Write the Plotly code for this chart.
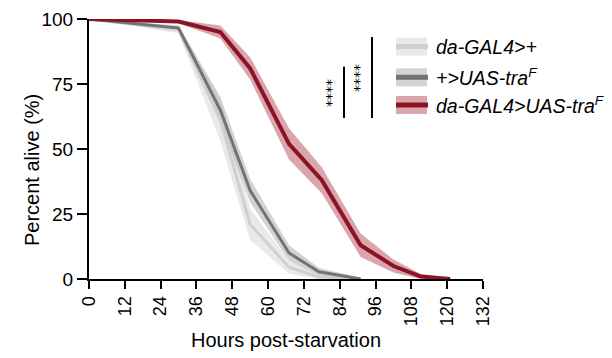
import plotly.graph_objects as go

# ---- data ----
hours_red = [0, 30, 44, 54, 67, 78, 91, 102, 111, 121]
red_mean = [100, 99, 95, 81, 52, 38, 13, 5, 1, 0]
red_sem = [0, 0.6, 2.5, 4.3, 6, 5, 4.5, 2.5, 1, 0.4]

hours_gray = [0, 30, 44, 54, 67, 77, 91]
dark_mean = [100, 96.5, 65, 34, 10, 2.8, 0]
dark_sem = [0, 1, 5, 4.5, 3, 1.5, 0.4]
light_mean = [100, 96, 61, 21, 4.5, 0.8, 0]
light_sem = [0, 1.5, 8, 6, 2.5, 0.8, 0.3]

series_names = ["da-GAL4>+", "+>UAS-tra<sup>F</sup>", "da-GAL4>UAS-tra<sup>F</sup>"]
line_colors = ["#d0d0d0", "#737373", "#8a1426"]
band_colors = ["rgba(215,215,215,0.55)", "rgba(175,175,175,0.55)", "rgba(195,105,120,0.6)"]
line_widths = [3, 3, 4]

x_ticks = list(range(0, 133, 12))
y_ticks = [0, 25, 50, 75, 100]

FONT = "Liberation Sans, Arial, Helvetica, sans-serif"

fig = go.Figure()

series = [
    (hours_gray, light_mean, light_sem),
    (hours_gray, dark_mean, dark_sem),
    (hours_red, red_mean, red_sem),
]

for i, (h, m, s) in enumerate(series):
    upper = [a + b for a, b in zip(m, s)]
    lower = [max(a - b, 0) for a, b in zip(m, s)]
    fig.add_trace(go.Scatter(
        x=h + h[::-1], y=upper + lower[::-1], fill="toself",
        fillcolor=band_colors[i], line=dict(width=0), mode="lines",
        hoverinfo="skip", showlegend=False))

for i, (h, m, s) in enumerate(series):
    fig.add_trace(go.Scatter(
        x=h, y=m, mode="lines",
        line=dict(color=line_colors[i], width=line_widths[i]),
        showlegend=False, cliponaxis=False))

# ---- custom legend ----
px0, px1 = 89, 483
py0, py1 = 279, 19
def xp(p):
    return (p - px0) / (px1 - px0)
def yp(p):
    return (py0 - p) / (py0 - py1)

rows = [46.7, 77.3, 105]
shapes = []
annotations = []
for i, ry in enumerate(rows):
    shapes.append(dict(type="rect", xref="paper", yref="paper",
                       x0=xp(396), x1=xp(427), y0=yp(ry + 9), y1=yp(ry - 9),
                       fillcolor=band_colors[i], line=dict(width=0)))
    shapes.append(dict(type="line", xref="paper", yref="paper",
                       x0=xp(396), x1=xp(428), y0=yp(ry), y1=yp(ry),
                       line=dict(color=line_colors[i], width=5)))
    annotations.append(dict(xref="paper", yref="paper", x=xp(434), y=yp(ry),
                            xanchor="left", yanchor="middle", showarrow=False,
                            text="<i>" + series_names[i] + "</i>",
                            font=dict(family=FONT, size=19.5, color="black")))

# significance bars
shapes.append(dict(type="line", xref="paper", yref="paper",
                   x0=xp(344), x1=xp(344), y0=yp(66.7), y1=yp(118),
                   line=dict(color="black", width=2)))
shapes.append(dict(type="line", xref="paper", yref="paper",
                   x0=xp(372), x1=xp(372), y0=yp(37), y1=yp(118),
                   line=dict(color="black", width=2)))
for sx, sy in [(331, 93), (359, 78)]:
    annotations.append(dict(xref="paper", yref="paper", x=xp(sx), y=yp(sy),
                            xanchor="center", yanchor="middle",
                            text="****", textangle=-90, showarrow=False,
                            font=dict(family="DejaVu Sans, sans-serif", size=14, color="#000000")))

# y-axis title as annotation for precise placement
annotations.append(dict(xref="paper", yref="paper", x=xp(32), y=yp(170),
                        xanchor="center", yanchor="middle", showarrow=False,
                        text="Percent alive (%)", textangle=-90,
                        font=dict(family=FONT, size=20, color="black")))

fig.update_layout(
    width=612, height=358,
    margin=dict(l=px0, r=612 - px1, t=py1, b=358 - py0, autoexpand=False),
    paper_bgcolor="white", plot_bgcolor="white",
    font=dict(family=FONT, size=19, color="black"),
    shapes=shapes, annotations=annotations,
    showlegend=False,
)
fig.update_xaxes(
    range=[0, 132], tickvals=x_ticks, ticktext=[str(t) for t in x_ticks],
    tickangle=-90, showline=True, linecolor="black", linewidth=2,
    ticks="outside", ticklen=8, tickwidth=2, tickcolor="black",
    showgrid=False, zeroline=False,
    title=dict(text="Hours post-starvation", font=dict(size=20), standoff=8),
    tickfont=dict(size=18),
)
fig.update_yaxes(
    range=[0, 100], tickvals=y_ticks,
    showline=True, linecolor="black", linewidth=2,
    ticks="outside", ticklen=10, tickwidth=2, tickcolor="black",
    showgrid=False, zeroline=False,
    tickfont=dict(size=19),
)

fig.write_html("out.html")
